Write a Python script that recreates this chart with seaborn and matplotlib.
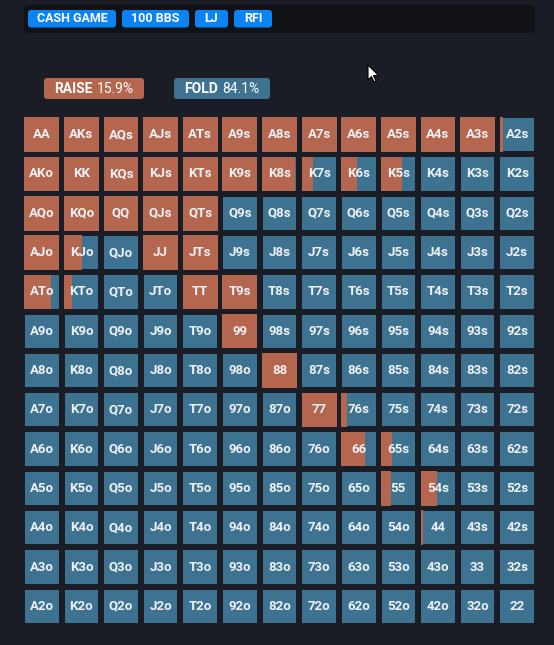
import numpy as np
import matplotlib
matplotlib.use("Agg")
import matplotlib.pyplot as plt
from matplotlib.colors import ListedColormap
from matplotlib.patches import FancyBboxPatch, Polygon
from matplotlib import transforms
import seaborn as sns

# ---- data ----
RANKS = ["A", "K", "Q", "J", "T", "9", "8", "7", "6", "5", "4", "3", "2"]
TAGS = ["CASH GAME", "100 BBS", "LJ", "RFI"]
ACTIONS = ["RAISE", "FOLD"]
ACTION_PCT = ["15.9%", "84.1%"]

# hands raised 100% of the time
RAISE_FULL = [
    "AA", "AKs", "AQs", "AJs", "ATs", "A9s", "A8s", "A7s", "A6s", "A5s", "A4s", "A3s",
    "AKo", "KK", "KQs", "KJs", "KTs", "K9s",
    "AQo", "KQo", "QQ", "QJs", "QTs",
    "AJo", "JJ", "JTs",
    "TT", "T9s", "99", "88", "77",
]
# mixed hands: raise frequency
RAISE_MIXED_HANDS = ["A2s", "K8s", "K7s", "K6s", "K5s", "KJo", "ATo", "KTo",
                     "76s", "66", "65s", "55", "54s", "44"]
RAISE_MIXED_FREQ = [0.08, 0.95, 0.33, 0.44, 0.61, 0.53, 0.77, 0.23,
                    0.17, 0.69, 0.31, 0.28, 0.47, 0.07]

BG = "#1a1d26"
BAR_BG = "#111216"
TAG_BLUE = "#0a84f5"
RAISE_C = "#b5664e"
FOLD_C = "#3d7391"
TXT = "#eef1f6"

sns.set_theme(style="white")
plt.rcParams["font.family"] = ["Roboto", "DejaVu Sans"]

n = len(RANKS)
labels = np.empty((n, n), dtype=object)
for i in range(n):
    for j in range(n):
        if i == j:
            labels[i, j] = RANKS[i] * 2
        elif j > i:
            labels[i, j] = RANKS[i] + RANKS[j] + "s"
        else:
            labels[i, j] = RANKS[j] + RANKS[i] + "o"

freq = {h: 1.0 for h in RAISE_FULL}
freq.update(dict(zip(RAISE_MIXED_HANDS, RAISE_MIXED_FREQ)))
raise_mat = np.array([[freq.get(labels[i, j], 0.0) for j in range(n)] for i in range(n)])

W, H = 554, 645
fig = plt.figure(figsize=(W / 100, H / 100), dpi=100, facecolor=BG)

# overlay for header / legend (pixel coords)
top = fig.add_axes([0, 0, 1, 1])
top.set_xlim(0, W)
top.set_ylim(H, 0)
top.axis("off")

top.add_patch(FancyBboxPatch((24, 5), 511, 28, boxstyle="round,pad=0,rounding_size=4",
                             fc=BAR_BG, ec="none"))
tag_x = [28, 122, 195, 234]
tag_w = [88, 67, 33, 38]
for t, x, w in zip(TAGS, tag_x, tag_w):
    top.add_patch(FancyBboxPatch((x, 10), w, 17.5, boxstyle="round,pad=0,rounding_size=3",
                                 fc=TAG_BLUE, ec="none"))
    top.text(x + w / 2, 19, t, color="white", fontsize=9, fontweight="bold",
             ha="center", va="center")

leg_x = [44, 174]
leg_w = [100, 96]
leg_c = [RAISE_C, FOLD_C]
fig.canvas.draw()
for a, p, x, w, c in zip(ACTIONS, ACTION_PCT, leg_x, leg_w, leg_c):
    top.add_patch(FancyBboxPatch((x, 78), w, 21, boxstyle="round,pad=0,rounding_size=3",
                                 fc=c, ec="none"))
    tb = top.text(x + 10, 89, a, color="white", fontsize=10, fontweight="bold",
                  ha="left", va="center")
    fig.canvas.draw()
    x_end = tb.get_window_extent().x1
    top.text(x_end + 4, 89, p, color="white", fontsize=10, ha="left", va="center",
             transform=transforms.blended_transform_factory(
                 transforms.IdentityTransform(), top.transData))

# mouse pointer from the screenshot
cx, cy = 368, 65
arrow = [(0, 0), (0, 15), (3.5, 11.5), (6, 17), (8, 16), (5.5, 10.5), (10.5, 10.5)]
top.add_patch(Polygon([(cx + a, cy + b) for a, b in arrow], closed=True,
                      fc="white", ec="black", lw=0.8, zorder=5))

# grid
ax = fig.add_axes([22 / W, 1 - 626 / H, 515 / W, 511 / H])
sns.heatmap(np.zeros((n, n)), cmap=ListedColormap([FOLD_C]), cbar=False,
            linewidths=2.9, linecolor=BG, annot=labels, fmt="",
            annot_kws={"color": TXT, "fontsize": 9.5, "fontweight": "bold"},
            xticklabels=False, yticklabels=False, ax=ax)

mx, my = 2.4 / 39.6, 2.4 / 39.3
rows, cols = np.nonzero(raise_mat)
vals = raise_mat[rows, cols]
ax.barh(rows + 0.5, vals * (1 - 2 * mx), left=cols + mx, height=1 - 2 * my,
        color=RAISE_C, linewidth=0, zorder=2)
ax.set_facecolor(BG)

fig.savefig("out.png", dpi=100, facecolor=BG)
